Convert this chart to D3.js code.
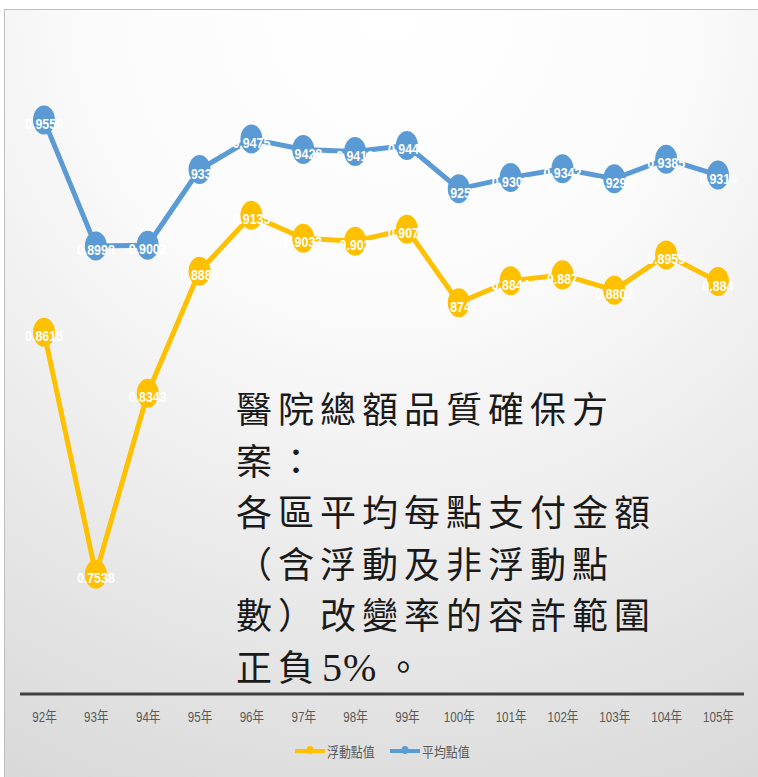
<!DOCTYPE html>
<html>
<head>
<meta charset="utf-8">
<script src="https://cdn.jsdelivr.net/npm/d3@7"></script>
<style>
  html, body { margin: 0; padding: 0; background: #fff; }
  svg { display: block; }
</style>
</head>
<body>
<svg id="chart" width="758" height="777"></svg>
<script>
// Years on the category axis
const years = ["92年","93年","94年","95年","96年","97年","98年","99年","100年","101年","102年","103年","104年","105年"];
// 浮動點值 (floating point value)
const floatValues = [0.8615, 0.7538, 0.8343, 0.8886, 0.9135, 0.9033, 0.902, 0.9073, 0.8746, 0.8844, 0.887, 0.8802, 0.8959, 0.884];
// 平均點值 (average point value)
const avgValues = [0.9559, 0.8998, 0.9002, 0.9339, 0.9475, 0.9428, 0.9419, 0.9446, 0.9253, 0.9303, 0.9342, 0.9298, 0.9385, 0.9314];
const seriesNames = ["浮動點值", "平均點值"];
const titleLines = [
  "醫院總額品質確保方",
  "案：",
  "各區平均每點支付金額",
  "（含浮動及非浮動點",
  "數）改變率的容許範圍",
  "正負"
];
const titleTail = ["5%", "。"];

const W = 758, H = 777;
const svg = d3.select("#chart");
const colors = ["#FFC000", "#5B9BD5"];

// Background panel with soft radial shading
const defs = svg.append("defs");
const grad = defs.append("radialGradient")
  .attr("id", "bg").attr("cx", "50%").attr("cy", "0%").attr("r", "110%")
  .attr("fx", "50%").attr("fy", "0%");
grad.append("stop").attr("offset", "0%").attr("stop-color", "#ffffff");
grad.append("stop").attr("offset", "35%").attr("stop-color", "#fbfbfb");
grad.append("stop").attr("offset", "100%").attr("stop-color", "#d9d9d9");

svg.append("rect").attr("x", 4.5).attr("y", 9.5).attr("width", W + 10).attr("height", H)
  .attr("fill", "url(#bg)").attr("stroke", "#bfbfbf").attr("stroke-width", 1);

// Scales
const x = d3.scalePoint().domain(years).range([44, 718]);
const y = d3.scaleLinear().domain([0.7, 1.0]).range([695, 21]);

// Category axis
const axisG = svg.append("g").attr("transform", "translate(0,694)");
const xAxis = d3.axisBottom(x).tickSize(0).tickPadding(0);
axisG.call(xAxis);
axisG.select(".domain").remove();
axisG.append("line").attr("x1", 20).attr("x2", 744).attr("y1", 0).attr("y2", 0)
  .attr("stroke", "#404040").attr("stroke-width", 3);
axisG.selectAll(".tick text")
  .attr("y", 0)
  .attr("dy", null)
  .attr("transform", "translate(0,28) scale(0.8,1)")
  .attr("fill", "#595959")
  .attr("font-size", 14.5)
  .attr("font-family", "'Liberation Sans', 'Noto Sans CJK TC', sans-serif");

// Title block
const title = svg.append("text")
  .attr("font-family", "'Noto Sans CJK TC', sans-serif")
  .attr("font-weight", 400)
  .attr("font-size", 36)
  .attr("fill", "#1a1a1a")
  .attr("letter-spacing", 6);
titleLines.forEach((t, i) => {
  title.append("tspan").attr("x", 236).attr("y", 423 + i * 51.5).text(t);
});
title.append("tspan")
  .attr("font-family", "'Liberation Serif', serif")
  .attr("font-size", 40)
  .attr("dx", 2)
  .attr("letter-spacing", 1)
  .text(titleTail[0]);
title.append("tspan").attr("dx", 8).attr("letter-spacing", 0).text(titleTail[1]);

// Lines, markers and value labels
const line = d3.line().x((d, i) => x(years[i])).y(d => y(d));
[floatValues, avgValues].forEach((vals, si) => {
  const g = svg.append("g");
  g.append("path").datum(vals).attr("d", line)
    .attr("fill", "none").attr("stroke", colors[si]).attr("stroke-width", 5)
    .attr("stroke-linejoin", "round");
  g.selectAll("ellipse").data(vals).join("ellipse")
    .attr("cx", (d, i) => x(years[i])).attr("cy", d => y(d))
    .attr("rx", 11).attr("ry", 14.5).attr("fill", colors[si]);
  g.selectAll("text").data(vals).join("text")
    .attr("transform", (d, i) => `translate(${x(years[i])},${y(d) + 9}) scale(0.8,1)`)
    .attr("text-anchor", "middle")
    .attr("fill", "#ffffff")
    .attr("font-family", "'Liberation Sans', sans-serif")
    .attr("font-weight", "bold")
    .attr("font-size", 15.5)
    .text(d => String(d));
});

// Legend
const legendItems = [
  { name: seriesNames[0], color: colors[0], x0: 295 },
  { name: seriesNames[1], color: colors[1], x0: 390 }
];
legendItems.forEach(it => {
  const g = svg.append("g");
  g.append("line").attr("x1", it.x0).attr("x2", it.x0 + 30).attr("y1", 751).attr("y2", 751)
    .attr("stroke", it.color).attr("stroke-width", 4);
  g.append("ellipse").attr("cx", it.x0 + 15).attr("cy", 750).attr("rx", 3.5).attr("ry", 4)
    .attr("fill", it.color);
  g.append("text")
    .attr("transform", `translate(${it.x0 + 32},757) scale(0.85,1)`)
    .attr("fill", "#595959").attr("font-size", 14)
    .attr("font-family", "'Noto Sans CJK TC', sans-serif")
    .text(it.name);
});
</script>
</body>
</html>
